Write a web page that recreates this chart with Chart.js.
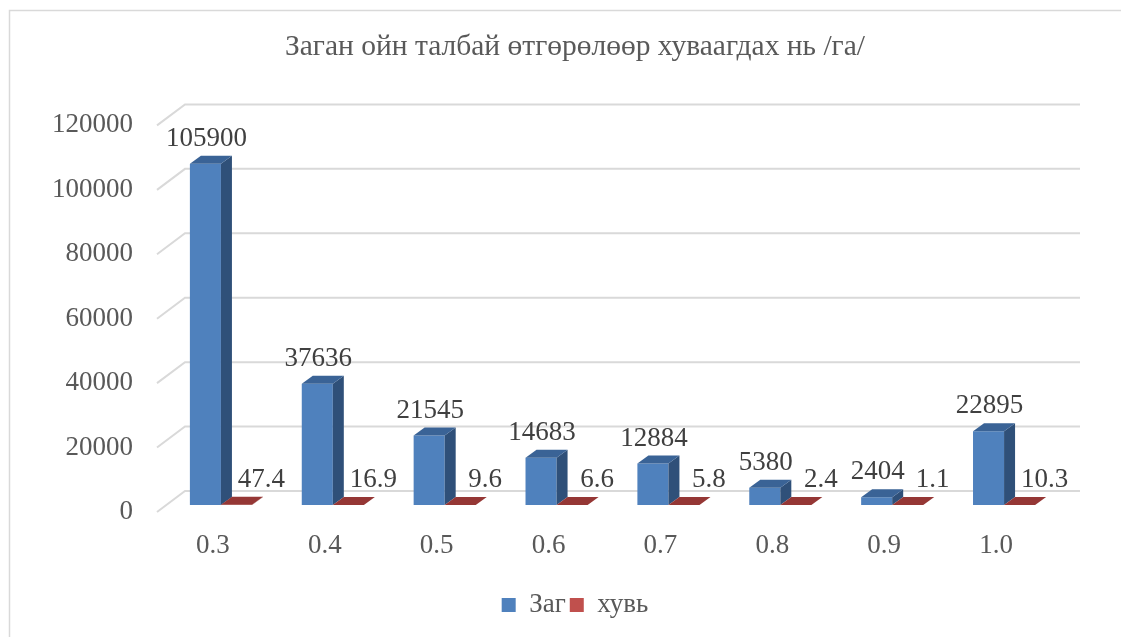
<!DOCTYPE html>
<html>
<head>
<meta charset="utf-8">
<script src="https://cdn.jsdelivr.net/npm/chart.js@4.4.1/dist/chart.umd.min.js"></script>
<style>
  html, body { margin: 0; padding: 0; background: #fff; }
  #wrap { width: 1121px; height: 637px; position: relative; }
</style>
</head>
<body>
<div id="wrap"><canvas id="content" width="1121" height="637"></canvas></div>
<script>
var categories = ["0.3", "0.4", "0.5", "0.6", "0.7", "0.8", "0.9", "1.0"];
var zag = [105900, 37636, 21545, 14683, 12884, 5380, 2404, 22895];
var huvi = [47.4, 16.9, 9.6, 6.6, 5.8, 2.4, 1.1, 10.3];
var yTicks = [0, 20000, 40000, 60000, 80000, 100000, 120000];

var depthX = 11, depthY = 8;

// back wall grid lines drawn in a fake 3d way
var grid3d = {
    id: "grid3d",
    beforeDatasetsDraw: function (chart) {
        var ctx = chart.ctx;
        var y = chart.scales.y;
        var area = chart.chartArea;
        ctx.save();
        ctx.strokeStyle = "#d9d9d9";
        ctx.lineWidth = 2;
        yTicks.forEach(function (v) {
            var py = y.getPixelForValue(v);
            ctx.beginPath();
            ctx.moveTo(area.left - 8, py + 7);
            ctx.lineTo(area.left + 20, py - 14);
            ctx.lineTo(area.right + 20, py - 14);
            ctx.stroke();
        });
        ctx.restore();
    }
};

// side and top faces of the bars + value labels
var bars3d = {
    id: "bars3d",
    afterDatasetsDraw: function (chart) {
        var ctx = chart.ctx;
        var sides = ["#2f5079", "#8b3533"];
        var tops = ["#3a6396", "#953735"];
        ctx.save();
        chart.data.datasets.forEach(function (ds, i) {
            var meta = chart.getDatasetMeta(i);
            meta.data.forEach(function (bar, j) {
                var l = bar.x - bar.width / 2;
                var r = bar.x + bar.width / 2;
                var top = bar.y;
                var base = bar.base;
                ctx.fillStyle = sides[i];
                ctx.beginPath();
                ctx.moveTo(r, top);
                ctx.lineTo(r + depthX, top - depthY);
                ctx.lineTo(r + depthX, base - depthY);
                ctx.lineTo(r, base);
                ctx.closePath();
                ctx.fill();
                ctx.fillStyle = tops[i];
                ctx.beginPath();
                ctx.moveTo(l, top);
                ctx.lineTo(l + depthX, top - depthY);
                ctx.lineTo(r + depthX, top - depthY);
                ctx.lineTo(r, top);
                ctx.closePath();
                ctx.fill();

                ctx.fillStyle = "#404040";
                ctx.font = "27px 'Liberation Serif'";
                ctx.textAlign = "center";
                ctx.textBaseline = "middle";
                var lx = i == 0 ? bar.x + 1 : bar.x + 25;
                ctx.fillText(String(ds.data[j]), lx, top - 25);
            });
        });
        ctx.restore();
    }
};

var frame = {
    id: "frame",
    beforeDraw: function (chart) {
        var ctx = chart.ctx;
        ctx.save();
        ctx.strokeStyle = "#d9d9d9";
        ctx.lineWidth = 1.5;
        ctx.strokeRect(9.5, 10.5, 1200, 700);
        ctx.restore();
    }
};

var prdata = {
    labels: categories,
    datasets: [{
        label: "Заг",
        data: zag,
        backgroundColor: "#4f81bd"
    }, {
        label: "хувь",
        data: huvi,
        backgroundColor: "#c0504d"
    }]
};

var ctx = document.getElementById("content").getContext("2d");
new Chart(ctx, {
    type: "bar",
    data: prdata,
    plugins: [frame, grid3d, bars3d],
    options: {
        responsive: false,
        animation: false,
        layout: { padding: { left: 29, right: 0, top: 0, bottom: 8.6 } },
        datasets: { bar: { barPercentage: 1, categoryPercentage: 0.555 } },
        plugins: {
            title: {
                display: true,
                text: "Заган ойн талбай өтгөрөлөөр хуваагдах нь /га/",
                color: "#595959",
                font: { family: "'Liberation Serif'", size: 29.5, weight: "normal" },
                padding: { top: 30, bottom: 53 }
            },
            legend: {
                position: "bottom",
                labels: {
                    color: "#595959",
                    font: { family: "'Liberation Serif'", size: 27 },
                    boxWidth: 14,
                    boxHeight: 14,
                    padding: 4
                }
            },
            tooltip: { enabled: false }
        },
        scales: {
            x: {
                grid: { display: false, drawTicks: false },
                border: { display: false },
                ticks: {
                    color: "#595959",
                    font: { family: "'Liberation Serif'", size: 27 },
                    padding: 25,
                    labelOffset: -8
                }
            },
            y: {
                min: 0,
                max: 120000,
                afterBuildTicks: function (axis) {
                    axis.ticks = yTicks.map(function (v) { return { value: v }; });
                },
                afterFit: function (axis) { axis.width = 136; },
                grid: { display: false, drawTicks: false },
                border: { display: false },
                ticks: {
                    color: "#595959",
                    font: { family: "'Liberation Serif'", size: 27 },
                    padding: 32,
                    labelOffset: 7,
                    callback: function (v) { return String(v); }
                }
            },
            // empty axis only keeps room on the right side
            yRight: {
                position: "right",
                afterFit: function (axis) { axis.width = 61; },
                grid: { display: false, drawTicks: false },
                border: { display: false },
                ticks: { display: false }
            }
        }
    }
});
</script>
</body>
</html>
